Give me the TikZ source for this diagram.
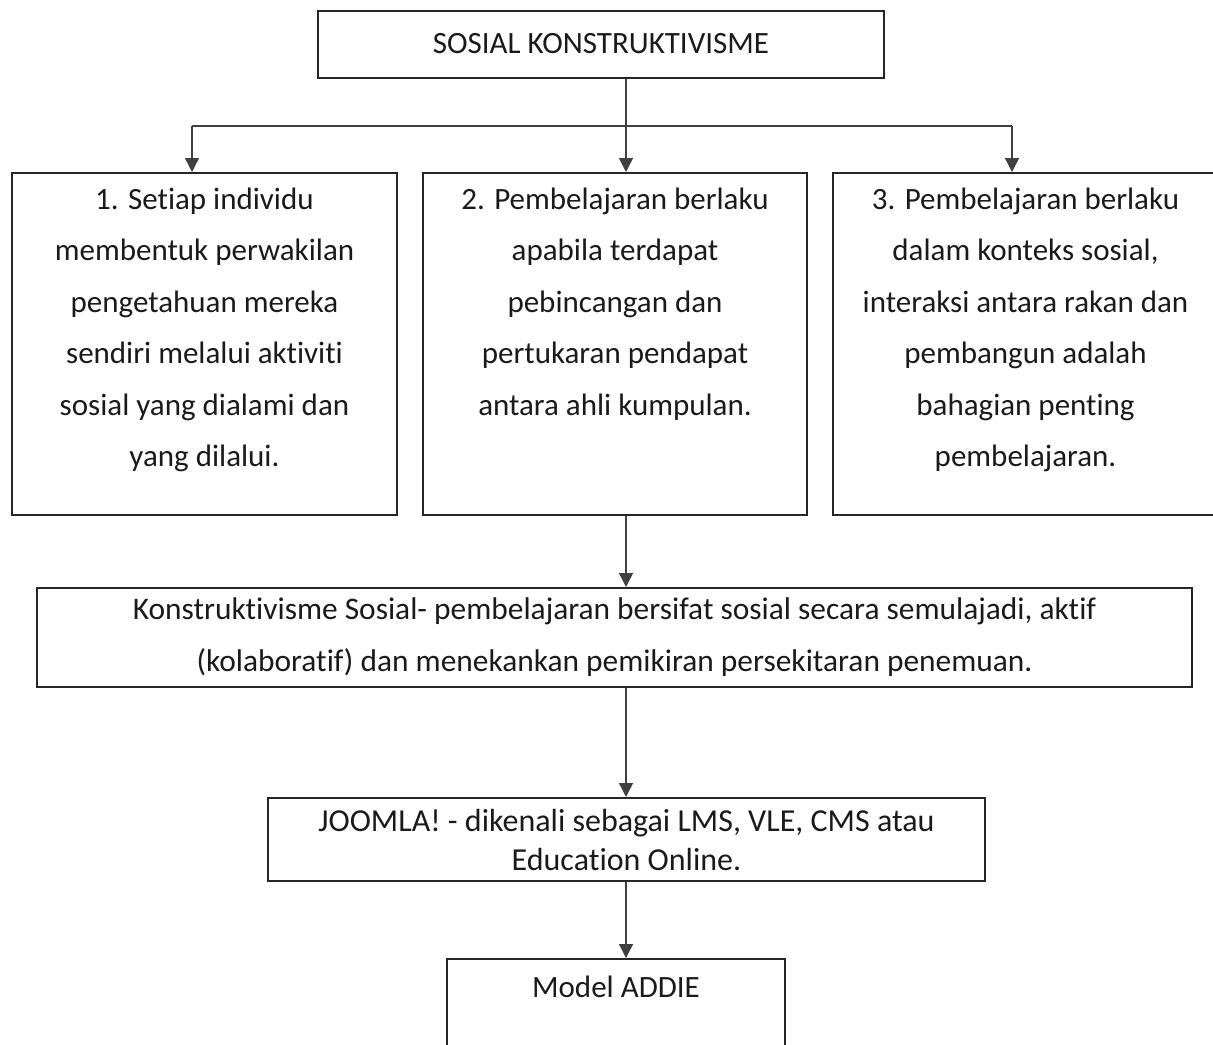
\documentclass[tikz,border=0pt]{standalone}
\usepackage{fontspec}
\setmainfont{Carlito}[Ligatures=NoCommon]
\usetikzlibrary{arrows.meta,positioning}
\definecolor{cText}{HTML}{1A1A1A}
\newcommand{\bodyfont}{\fontsize{15.5}{25.75}\selectfont}
\newcommand{\boxbody}[4]{\parbox[t][#2][t]{#1}{\centering\rule{0pt}{#3}#4}}

\begin{document}
\begin{tikzpicture}[
    x=0.5pt, y=-0.5pt,
    font=\bodyfont, text=cText,
    box/.style={draw=black!85, line width=1pt, inner sep=0pt, align=flush center, anchor=north},
    link/.style={draw=black!75, line width=0.7pt},
    arr/.style={link, -{Triangle[length=7pt,width=7pt]}},
  ]
  \useasboundingbox (0,0) rectangle (1213,1044);
  % top of the chart
  \node[box, anchor=center, minimum width=283pt, minimum height=33.5pt,
        font=\fontsize{15.5}{17}\selectfont] (teori) at (601,44) {SOSIAL KONSTRUKTIVISME};
  \coordinate (spine) at (626,0);
  \coordinate (barL) at (192,126);
  \coordinate (barR) at (1012,126);
  % three principles
  \node[box] (prinsip1) at (204.5,172)
    {\boxbody{192.5pt}{171pt}{18pt}{1. Setiap individu\\ membentuk perwakilan\\ pengetahuan mereka\\ sendiri melalui aktiviti\\ sosial yang dialami dan\\ yang dilalui.}};
  \node[box] (prinsip2) at (615,172)
    {\boxbody{192pt}{171pt}{18pt}{2. Pembelajaran berlaku\\ apabila terdapat\\ pebincangan dan\\ pertukaran pendapat\\ antara ahli kumpulan.}};
  \node[box] (prinsip3) at (1025.5,172)
    {\boxbody{192.5pt}{171pt}{18pt}{3. Pembelajaran berlaku\\ dalam konteks sosial,\\ interaksi antara rakan dan\\ pembangun adalah\\ bahagian penting\\ pembelajaran.}};
  % summary, platform, model
  \node[box, text width=577.5pt, minimum height=49.5pt,
        font=\fontsize{15.7}{26}\selectfont] (ringkasan) at (614.5,587)
    {Konstruktivisme Sosial- pembelajaran bersifat sosial secara semulajadi, aktif\\ (kolaboratif) dan menekankan pemikiran persekitaran penemuan.};
  \node[box, text width=358.5pt, minimum height=41.5pt,
        font=\fontsize{16}{19.5}\selectfont] (joomla) at (626.5,797)
    {JOOMLA! - dikenali sebagai LMS, VLE, CMS atau\\ Education Online.};
  \node[box] (addie) at (616,958)
    {\boxbody{169pt}{60pt}{19pt}{Model ADDIE}};
  % connectors
  \draw[link] (spine |- teori.south) -- (spine |- barL);
  \draw[link] (barL) -- (barR);
  \draw[arr] (barL) -- (barL |- prinsip1.north);
  \draw[arr] (spine |- barL) -- (spine |- prinsip2.north);
  \draw[arr] (barR) -- (barR |- prinsip3.north);
  \draw[arr] (spine |- prinsip2.south) -- (spine |- ringkasan.north);
  \draw[arr] (spine |- ringkasan.south) -- (spine |- joomla.north);
  \draw[arr] (spine |- joomla.south) -- (spine |- addie.north);
\end{tikzpicture}
\end{document}
